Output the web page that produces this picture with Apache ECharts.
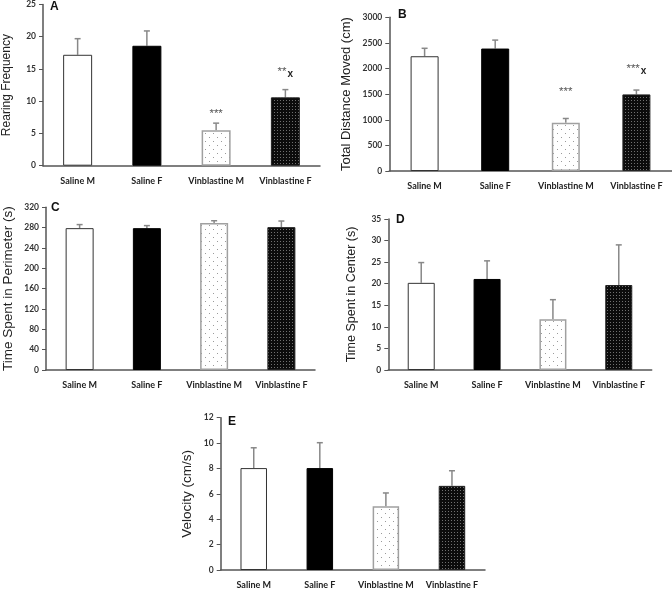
<!DOCTYPE html>
<html><head><meta charset="utf-8">
<script src="https://cdn.jsdelivr.net/npm/echarts@6/dist/echarts.min.js"></script>
<style>html,body{margin:0;padding:0;background:#fff}#c{width:672px;height:590px}</style>
</head><body><div id="c"></div>
<script>
// ---------- DATA ----------
var categories = ['Saline M', 'Saline F', 'Vinblastine M', 'Vinblastine F'];

var rearingMean = [17.2, 18.6, 5.5, 10.6];
var rearingSem  = [2.5, 2.3, 1.1, 1.2];
var rearingNotes = [[2, 8, '***', ''], [3, 14.5, '**', 'x']];

var distanceMean = [2240, 2390, 940, 1495];
var distanceSem  = [155, 165, 85, 85];
var distanceNotes = [[2, 1550, '***', ''], [3, 2000, '***', 'x']];

var perimeterMean = [279, 279, 289, 281];
var perimeterSem  = [7, 5, 4.6, 12];

var centerMean = [20.2, 21.1, 11.75, 19.7];
var centerSem  = [4.7, 4.2, 4.55, 9.3];

var velocityMean = [8.03, 8.03, 5.03, 6.63];
var velocitySem  = [1.6, 2.0, 1.04, 1.19];

var panelLetters = ['A', 'B', 'C', 'D', 'E'];
var axisTitles = ['Rearing Frequency', 'Total Distance Moved (cm)', 'Time Spent in Perimeter (s)', 'Time Spent in Center (s)', 'Velocity (cm/s)'];
var yMax = [25, 3000, 320, 35, 12];
var yStep = [5, 500, 40, 5, 2];

// ---------- STYLES ----------
function makePattern(size, bg, dots) {
  var c = document.createElement('canvas');
  c.width = size; c.height = size;
  var g = c.getContext('2d');
  g.fillStyle = bg; g.fillRect(0, 0, size, size);
  dots.forEach(function (d) { g.fillStyle = d[2]; g.fillRect(d[0], d[1], 1, 1); });
  return c;
}
var dotted = makePattern(8, '#ffffff', [[1, 1, '#9a9a9a'], [5, 5, '#9a9a9a']]);
var dense = makePattern(3, '#0c0c0c', [[1, 1, '#707070']]);

var barStyles = [
  { color: '#ffffff', borderColor: '#333333', borderWidth: 1 },
  { color: '#000000', borderColor: '#000000', borderWidth: 1 },
  { color: { image: dotted, repeat: 'repeat' }, borderColor: '#a0a0a0', borderWidth: 1.5 },
  { color: { image: dense, repeat: 'repeat' }, borderColor: '#222222', borderWidth: 1 }
];

var grids = [
  { left: 40.7, top: 2.2, width: 279.3, height: 163.5 },
  { left: 389.3, top: 17.3, width: 282.4, height: 153.7 },
  { left: 40.7, top: 207.3, width: 274.3, height: 162.7 },
  { left: 388.3, top: 219, width: 263.4, height: 151 },
  { left: 220.7, top: 417.7, width: 264.3, height: 155 }
];
var letterPos = [[50, 1], [398, 9], [51, 202], [396, 214], [228, 416]];
var titleSize = [12, 13, 13.5, 12.5, 13.5];
var titleGap = [30, 36, 31, 30, 26];
var barW = [29, 28, 28, 27, 26.5];

var means = [rearingMean, distanceMean, perimeterMean, centerMean, velocityMean];
var sems = [rearingSem, distanceSem, perimeterSem, centerSem, velocitySem];
var notes = [rearingNotes, distanceNotes, [], [], []];

var xAxes = [], yAxes = [], series = [], titles = [];
grids.forEach(function (g, k) {
  xAxes.push({
    type: 'category', gridIndex: k, data: categories,
    axisLine: { lineStyle: { color: '#555555', width: 1.5 } },
    axisTick: { show: false },
    axisLabel: { interval: 0, margin: 11, fontFamily: 'Lato', fontWeight: 'bold', fontSize: 9, color: '#222222' }
  });
  yAxes.push({
    type: 'value', gridIndex: k, min: 0, max: yMax[k], interval: yStep[k],
    splitLine: { show: false },
    axisLine: { show: true, lineStyle: { color: '#555555', width: 1.5 } },
    axisTick: { show: true, length: 4, lineStyle: { color: '#555555', width: 1 } },
    axisLabel: { margin: 7, fontFamily: 'Lato', fontWeight: 'bold', fontSize: 8.5, color: '#333333',
      formatter: function (v) { return String(v); } },
    name: axisTitles[k], nameLocation: 'middle', nameRotate: 90, nameGap: titleGap[k],
    nameTextStyle: { fontFamily: 'Liberation Sans', fontSize: titleSize[k], color: '#222222' }
  });
  titles.push({
    text: panelLetters[k], left: letterPos[k][0], top: letterPos[k][1], padding: 0,
    textStyle: { fontFamily: 'Liberation Sans', fontWeight: 'bold', fontSize: 12, color: '#111111' }
  });
  series.push({
    type: 'bar', xAxisIndex: k, yAxisIndex: k, barWidth: barW[k], silent: true,
    data: means[k].map(function (v, i) { return { value: v, itemStyle: barStyles[i] }; })
  });
  series.push({
    type: 'custom', xAxisIndex: k, yAxisIndex: k, silent: true, z: 1,
    data: means[k].map(function (v, i) { return [i, v, v + sems[k][i]]; }),
    renderItem: function (params, api) {
      var p0 = api.coord([api.value(0), api.value(1)]);
      var p1 = api.coord([api.value(0), api.value(2)]);
      var st = { stroke: '#888888', lineWidth: 1.5 };
      return { type: 'group', children: [
        { type: 'line', shape: { x1: p0[0], y1: p0[1], x2: p1[0], y2: p1[1] }, style: st },
        { type: 'line', shape: { x1: p1[0] - 3, y1: p1[1], x2: p1[0] + 3, y2: p1[1] }, style: st }
      ] };
    }
  });
  if (notes[k].length) {
    series.push({
      type: 'custom', xAxisIndex: k, yAxisIndex: k, silent: true,
      data: notes[k],
      renderItem: function (params, api) {
        var n = notes[k][params.dataIndex];
        var p = api.coord([n[0], n[1]]);
        return { type: 'text', x: p[0], y: p[1], style: {
          text: '{a|' + n[2] + '}' + (n[3] ? '{b|' + n[3] + '}' : ''),
          align: 'center', verticalAlign: 'middle',
          rich: {
            a: { fontFamily: 'Liberation Sans', fontSize: 11.5, fill: '#555555', color: '#555555' },
            b: { fontFamily: 'Liberation Sans', fontSize: 10, fontWeight: 'bold', fill: '#222222', color: '#222222', padding: [5, 0, 0, 1] }
          }
        } };
      }
    });
  }
});

var chart = echarts.init(document.getElementById('c'), null, { renderer: 'canvas' });
chart.setOption({
  animation: false,
  backgroundColor: '#ffffff',
  title: titles,
  grid: grids,
  xAxis: xAxes,
  yAxis: yAxes,
  series: series
});
</script>
</body></html>
